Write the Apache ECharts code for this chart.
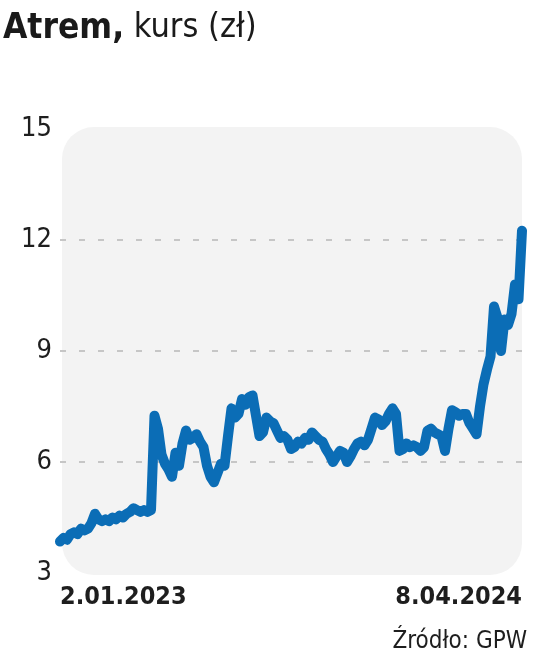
<!DOCTYPE html>
<html>
<head>
<meta charset="utf-8">
<script src="https://cdn.jsdelivr.net/npm/echarts@6/dist/echarts.min.js"></script>
<style>
	html, body { margin: 0; padding: 0; background: #fff; }
	#chart { width: 536px; height: 659px; }
</style>
</head>
<body>
<div id="chart"></div>
<script>
	var FONT = '"DejaVu Sans Condensed", "Liberation Sans Narrow", "Noto Sans", sans-serif';

	//Notowania (pon. i czw.), 2.01.2023 - 8.04.2024
	var prices = [
		3.85, 3.95, 3.9, 4.05, 4.1, 4.05, 4.2, 4.15, 4.2, 4.35,
		4.6, 4.45, 4.4, 4.45, 4.4, 4.5, 4.45, 4.55, 4.5, 4.6,
		4.65, 4.75, 4.7, 4.65, 4.7, 4.65, 4.7, 7.25, 6.9, 6.2,
		5.95, 5.8, 5.6, 6.25, 5.9, 6.5, 6.85, 6.6, 6.65, 6.75,
		6.55, 6.4, 5.9, 5.6, 5.45, 5.7, 5.95, 5.9, 6.7, 7.45,
		7.2, 7.3, 7.7, 7.55, 7.75, 7.8, 7.25, 6.7, 6.8, 7.2,
		7.1, 7.05, 6.85, 6.65, 6.7, 6.6, 6.35, 6.4, 6.55, 6.5,
		6.65, 6.6, 6.8, 6.7, 6.6, 6.55, 6.35, 6.2, 6.0, 6.15,
		6.3, 6.25, 6.0, 6.15, 6.35, 6.5, 6.55, 6.45, 6.6, 6.9,
		7.2, 7.15, 7.0, 7.1, 7.3, 7.45, 7.3, 6.3, 6.35, 6.5,
		6.4, 6.45, 6.4, 6.3, 6.4, 6.85, 6.9, 6.8, 6.75, 6.7,
		6.3, 6.9, 7.4, 7.35, 7.25, 7.3, 7.3, 7.05, 6.9, 6.75,
		7.5, 8.1, 8.5, 8.85, 10.2, 9.9, 9.0, 9.85, 9.7, 10.0,
		10.8, 10.4, 12.25
	];

	var yTicks = [3, 6, 9, 12, 15];

	var title = 'Atrem,';
	var subtitle = 'kurs (zł)';
	var source = 'Źródło: GPW';

	//Daty sesji: poniedziałek i czwartek każdego tygodnia
	var dates = [];
	var start = new Date(2023, 0, 2);
	for (var i = 0; i < prices.length; i++) {
		var d = new Date(start.getTime());
		d.setDate(d.getDate() + Math.floor(i / 2) * 7 + (i % 2) * 3);
		dates.push(d.getDate() + '.' + ('0' + (d.getMonth() + 1)).slice(-2) + '.' + d.getFullYear());
	}

	var chart = echarts.init(document.getElementById('chart'));

	chart.setOption({
		animation: false,
		backgroundColor: '#fff',
		textStyle: { fontFamily: FONT },
		grid: { left: 60, right: 14, top: 129, bottom: 86, containLabel: false },
		xAxis: {
			type: 'category',
			data: dates,
			boundaryGap: false,
			axisLine: { show: false },
			axisTick: { show: false },
			splitLine: { show: false },
			axisLabel: {
				interval: function (idx) {
					return idx === 0 || idx === dates.length - 1;
				},
				alignMinLabel: 'left',
				alignMaxLabel: 'right',
				margin: 12,
				fontSize: 25,
				fontWeight: 'bold',
				color: '#1e1e1e',
				fontFamily: FONT
			}
		},
		yAxis: {
			type: 'value',
			min: yTicks[0],
			max: yTicks[yTicks.length - 1],
			interval: 3,
			axisLine: { show: false },
			axisTick: { show: false },
			axisLabel: {
				margin: 8,
				fontSize: 27,
				color: '#1e1e1e',
				fontFamily: FONT
			},
			splitLine: {
				show: true,
				showMinLine: false,
				showMaxLine: false,
				lineStyle: { color: '#c6c6c6', width: 2, type: [6, 13] }
			}
		},
		series: [{
			type: 'line',
			data: prices,
			symbol: 'none',
			z: 5,
			lineStyle: { color: '#0b6db6', width: 10, cap: 'round', join: 'round' }
		}]
	});

	//Tło obszaru wykresu (zaokrąglony prostokąt) i podpisy
	var tl = chart.convertToPixel({ gridIndex: 0 }, [0, yTicks[yTicks.length - 1]]);
	var br = chart.convertToPixel({ gridIndex: 0 }, [dates.length - 1, yTicks[0]]);

	chart.setOption({
		graphic: [
			{
				type: 'rect',
				z: -10,
				silent: true,
				shape: { x: tl[0] + 2, y: tl[1] - 2, width: br[0] - tl[0] - 2, height: br[1] - tl[1] + 4, r: 32 },
				style: { fill: '#f3f3f3' }
			},
			{
				type: 'text',
				left: 3,
				top: 11,
				style: {
					text: '{b|' + title + '}{n| ' + subtitle + '}',
					rich: {
						b: { fontFamily: FONT, fontSize: 35, fontWeight: 'bold', fill: '#1a1a1a' },
						n: { fontFamily: FONT, fontSize: 34, fill: '#1a1a1a' }
					}
				}
			},
			{
				type: 'text',
				right: 9,
				top: 630,
				style: {
					text: source,
					fontFamily: FONT,
					fontSize: 24,
					fill: '#1e1e1e'
				}
			}
		]
	});
</script>
</body>
</html>
